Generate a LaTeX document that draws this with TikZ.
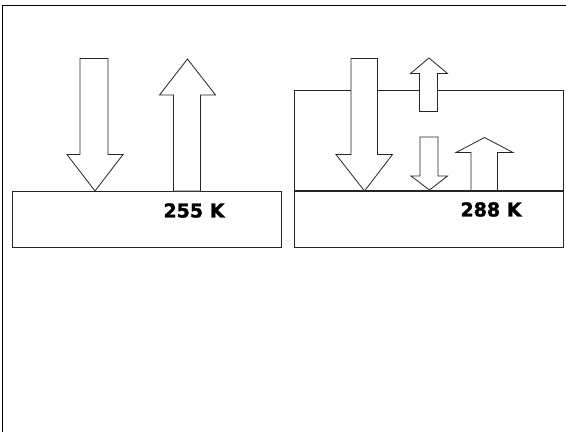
\documentclass[tikz,border=0pt]{standalone}
\usepackage{fontspec}
\newfontfamily\lblfont{DejaVu Sans Bold}[FakeBold=1.6]
\begin{document}
\begin{tikzpicture}[x=1pt,y=-1pt,
  box/.style={draw=black!85,line width=0.9pt},
  arr/.style={draw=black!85,fill=white,line width=0.8pt,line join=miter},
  lbl/.style={font=\lblfont\fontsize{19}{19}\selectfont,inner sep=0pt}]
\useasboundingbox (0,0) rectangle (566,432);
% open frame (top and left)
\draw[black,line width=1pt] (2.5,432) -- (2.5,5.5) -- (566,5.5);
% left panel
\draw[box] (12,191) rectangle (281,247);
\draw[arr] (80,58.5) -- (108,58.5) -- (108,154.5) -- (123,154.5) -- (95,191) -- (67,154.5) -- (80,154.5) -- cycle;
\draw[arr] (173.5,191) -- (200.5,191) -- (200.5,95) -- (215.5,95) -- (187.5,59) -- (159.5,95) -- (173.5,95) -- cycle;
\node[lbl] (t1) at (194,210.5) {255 K};
% right panel
\draw[box] (294,90) rectangle (563,190);
\draw[box] (294,191) rectangle (563,247);
\draw[arr] (351,58.5) -- (377.5,58.5) -- (377.5,154.5) -- (392.5,154.5) -- (364.5,191) -- (336,154.5) -- (351,154.5) -- cycle;
\draw[arr] (419.5,111.5) -- (437.5,111.5) -- (437.5,73.5) -- (447.5,73.5) -- (429,58) -- (410.5,73.5) -- (419.5,73.5) -- cycle;
\draw[arr] (420,137) -- (438,137) -- (438,176) -- (447.5,176) -- (429.5,190) -- (411,176) -- (420,176) -- cycle;
\draw[arr] (471,190.5) -- (497.5,190.5) -- (497.5,152.5) -- (513,152.5) -- (484.5,137.5) -- (456,152.5) -- (471,152.5) -- cycle;
\node[lbl] (t2) at (491,209.5) {288 K};
\end{tikzpicture}
\end{document}
